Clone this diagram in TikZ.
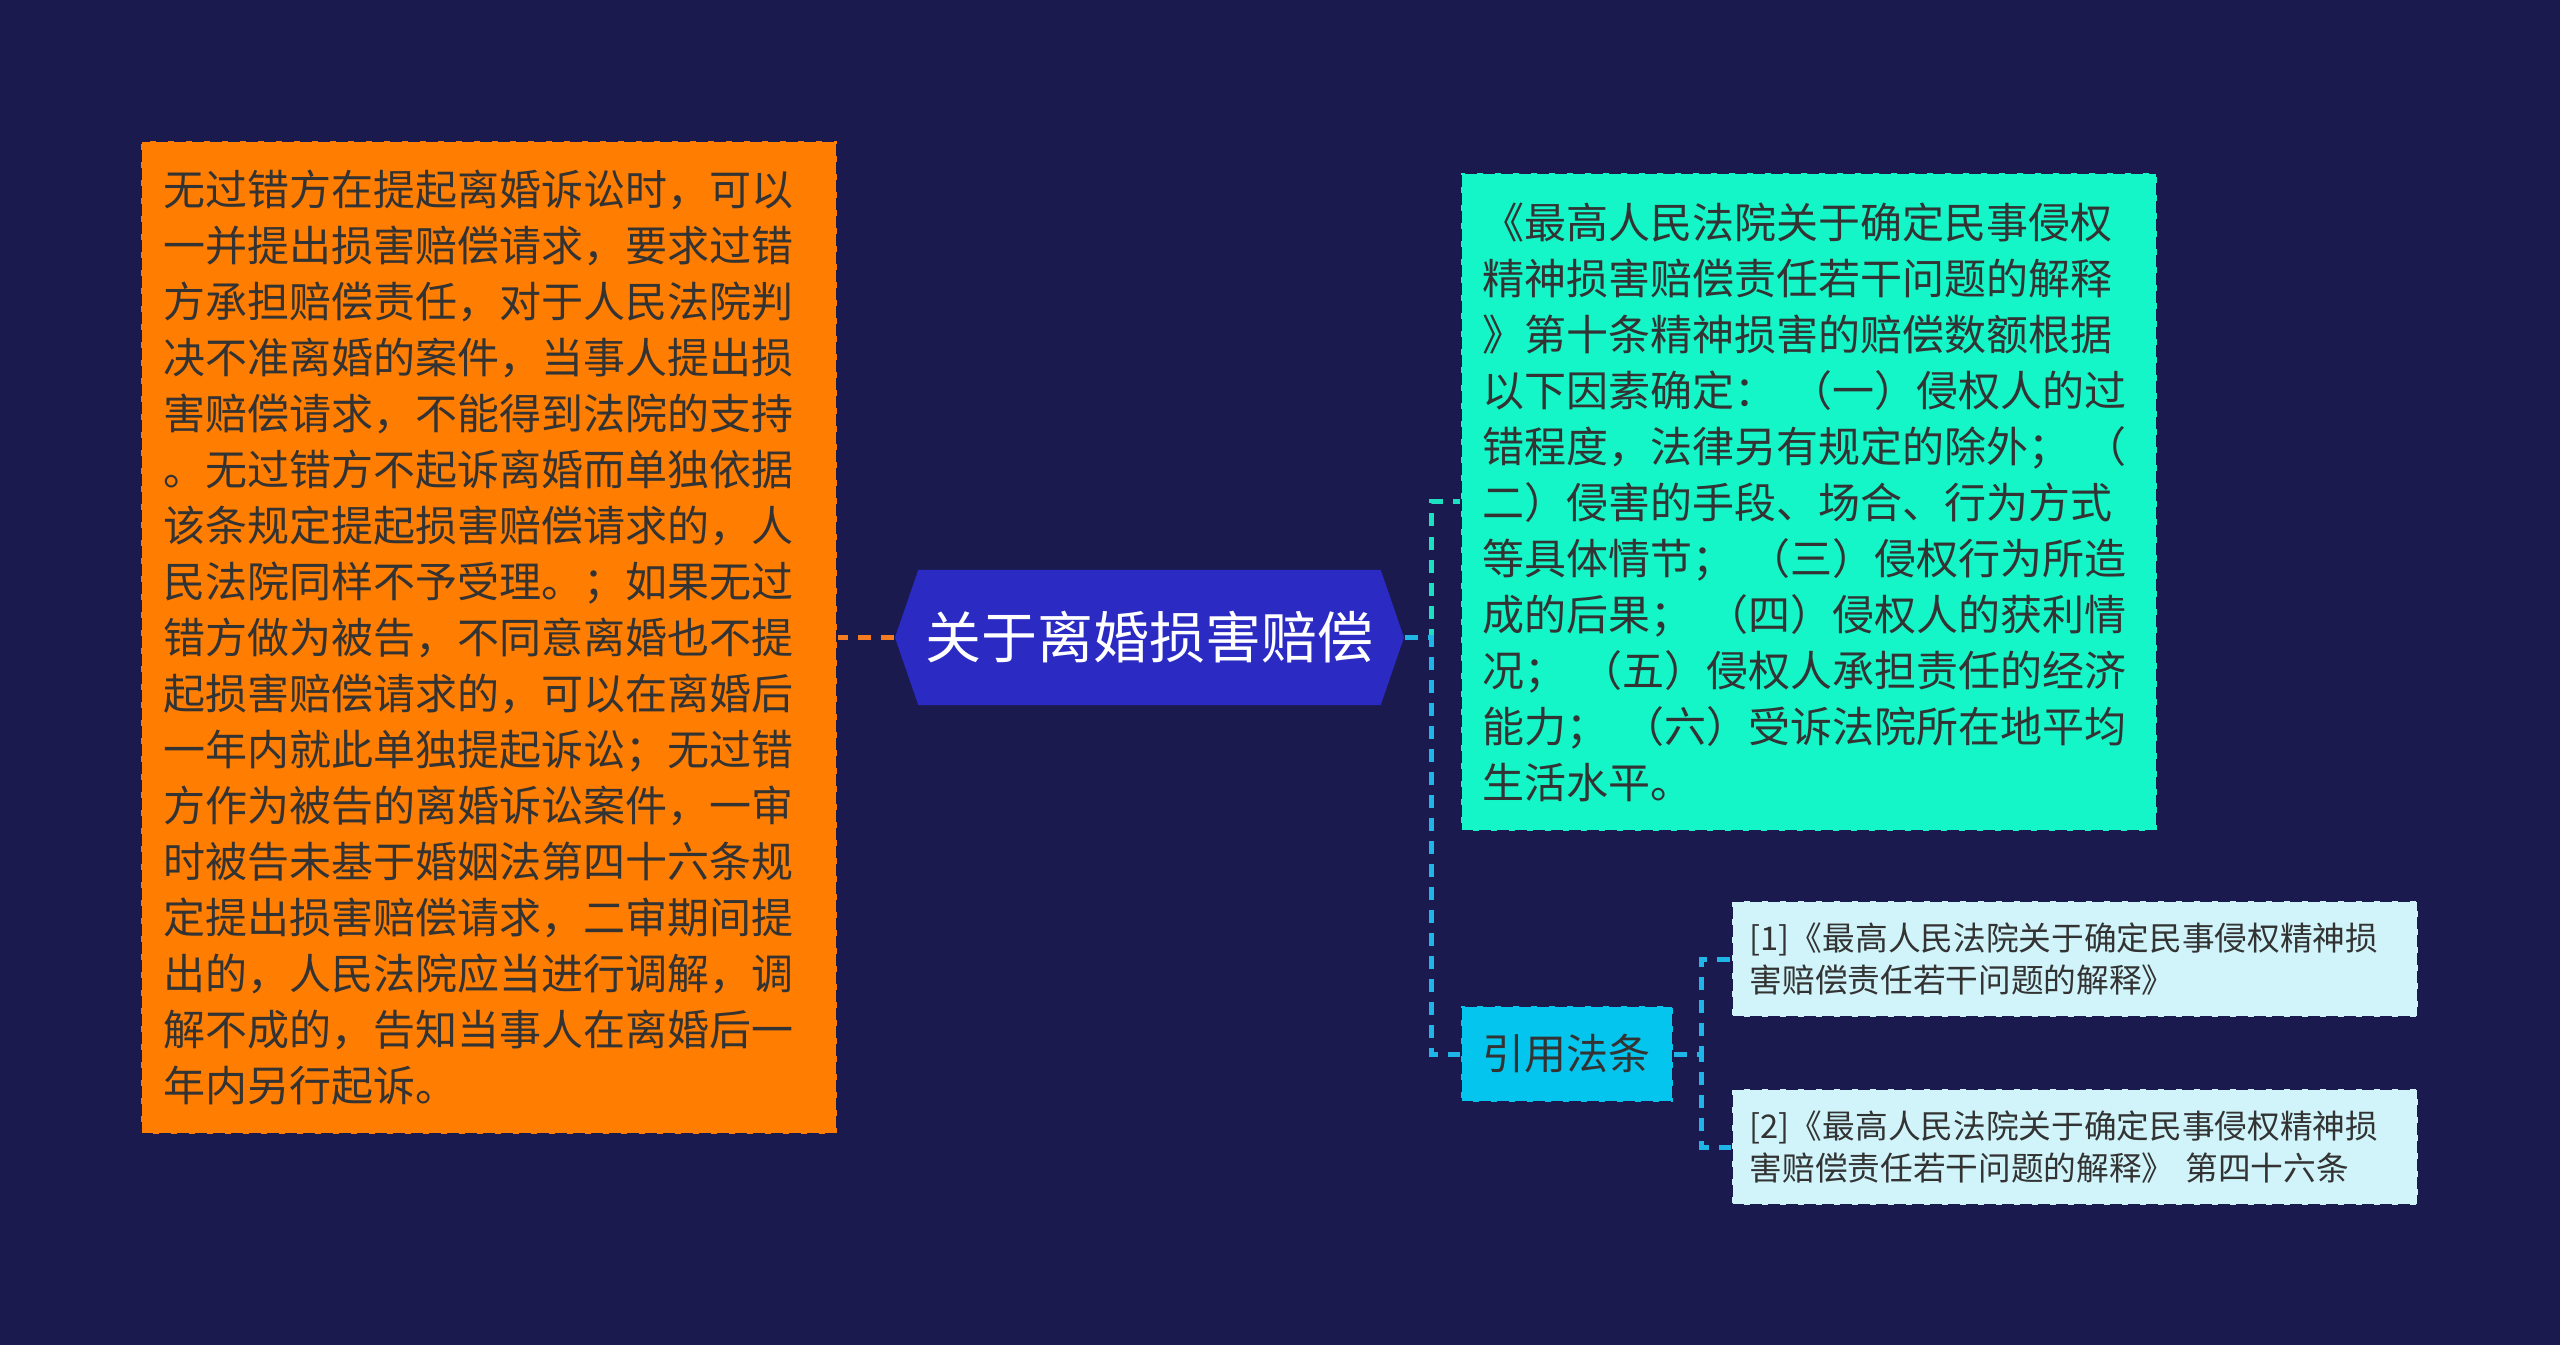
\documentclass[tikz,border=0pt]{standalone}
\usepackage{fontspec}
\usepackage{tikz}
\usetikzlibrary{arrows.meta, positioning, shapes.symbols}
\newfontfamily\cjkfont{Noto Sans CJK SC}
\definecolor{Backdrop}{HTML}{1A1A4E}
\definecolor{HubBlue}{HTML}{2B2BC4}
\definecolor{LeafOrange}{HTML}{FF7D00}
\definecolor{LeafAqua}{HTML}{14F5C8}
\definecolor{CiteCyan}{HTML}{04C5EE}
\definecolor{RefIce}{HTML}{D0F4FA}
\definecolor{LinkOrange}{HTML}{F57C20}
\definecolor{LinkAqua}{HTML}{1DE0C0}
\definecolor{LinkCyan}{HTML}{1FB5E6}
\definecolor{TextDark}{HTML}{333333}

\begin{document}
\begin{tikzpicture}[
    bodyfont/.style={font={\cjkfont\fontsize{11.95pt}{15.93pt}\selectfont}},
    edgedash/.style={draw=Backdrop, line width=0.2mm, dash pattern=on 1.2mm off 0.6mm},
    leafbox/.style={edgedash, bodyfont, text=TextDark, align=left, text width=65.2mm, inner xsep=2.2mm, inner ysep=0pt},
    refbox/.style={edgedash, fill=RefIce, text=TextDark, align=left, text width=65mm, inner xsep=1.8mm, inner ysep=0pt, minimum height=11.6mm, font={\cjkfont\fontsize{9.3pt}{12.09pt}\selectfont}},
    link/.style={line width=0.5mm, dash pattern=on 1.3mm off 1mm}]
  \fill[Backdrop] (-114.95mm,63.75mm) rectangle (141.05mm,-70.75mm);
  \useasboundingbox (-114.95mm,63.75mm) rectangle (141.05mm,-70.75mm);

  \node[signal, signal to=west and east, signal pointer angle=142, fill=HubBlue, minimum width=50.9mm, minimum height=13.5mm, inner xsep=0pt, text=white, font={\cjkfont\fontsize{15.93pt}{19pt}\selectfont}] (hub) {关于离婚损害赔偿};

  \node[leafbox, fill=LeafOrange, minimum height=99.3mm, left=5.6mm of hub] (claim) {无过错方在提起离婚诉讼时，可以\\
一并提出损害赔偿请求，要求过错\\
方承担赔偿责任，对于人民法院判\\
决不准离婚的案件，当事人提出损\\
害赔偿请求，不能得到法院的支持\\
。无过错方不起诉离婚而单独依据\\
该条规定提起损害赔偿请求的，人\\
民法院同样不予受理。；如果无过\\
错方做为被告，不同意离婚也不提\\
起损害赔偿请求的，可以在离婚后\\
一年内就此单独提起诉讼；无过错\\
方作为被告的离婚诉讼案件，一审\\
时被告未基于婚姻法第四十六条规\\
定提出损害赔偿请求，二审期间提\\
出的，人民法院应当进行调解，调\\
解不成的，告知当事人在离婚后一\\
年内另行起诉。};

  \node[leafbox, fill=LeafAqua, minimum height=65.8mm, right=5.5mm of hub.east, yshift=13.55mm] (factors) {《最高人民法院关于确定民事侵权\\
精神损害赔偿责任若干问题的解释\\
》第十条精神损害的赔偿数额根据\\
以下因素确定： （一）侵权人的过\\
错程度，法律另有规定的除外； （\\
二）侵害的手段、场合、行为方式\\
等具体情节； （三）侵权行为所造\\
成的后果； （四）侵权人的获利情\\
况； （五）侵权人承担责任的经济\\
能力； （六）受诉法院所在地平均\\
生活水平。};

  \node[edgedash, bodyfont, fill=CiteCyan, text=TextDark, inner xsep=2.2mm, minimum height=9.6mm, right=5.5mm of hub.east, yshift=-41.65mm] (cite) {引用法条};

  \node[refbox, right=5.7mm of cite.east, yshift=9.5mm] (ref1) {[1]《最高人民法院关于确定民事侵权精神损\\害赔偿责任若干问题的解释》};
  \node[refbox, right=5.7mm of cite.east, yshift=-9.3mm] (ref2) {[2]《最高人民法院关于确定民事侵权精神损\\害赔偿责任若干问题的解释》 第四十六条};

  \draw[link, LinkOrange] (hub.west) -- (claim.east);
  \draw[link, LinkAqua] (hub.east) -- ++(2.7mm,0) |- (factors.west);
  \draw[link, LinkCyan] (hub.east) -- ++(2.7mm,0) |- (cite.west);
  \draw[link, LinkCyan] (cite.east) -- ++(2.8mm,0) |- (ref1.west);
  \draw[link, LinkCyan] (cite.east) -- ++(2.8mm,0) |- (ref2.west);
\end{tikzpicture}
\end{document}
